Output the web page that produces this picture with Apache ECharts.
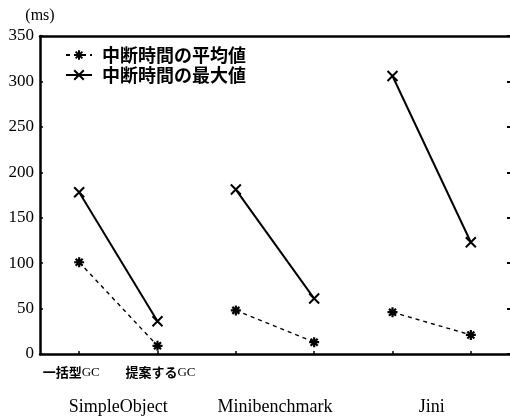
<!DOCTYPE html>
<html>
<head>
<meta charset="utf-8">
<script src="https://cdn.jsdelivr.net/npm/echarts@6/dist/echarts.min.js"></script>
<style>
  html, body { margin: 0; padding: 0; background: #fff; }
  #chart { width: 510px; height: 416px; }
</style>
</head>
<body>
<div id="chart"></div>
<script>
// GC pause times (ms): batch GC vs. proposed GC, per benchmark
const gcKinds = ['一括型GC', '提案するGC'];
const benchmarks = ['SimpleObject', 'Minibenchmark', 'Jini'];
const seriesNames = ['中断時間の平均値', '中断時間の最大値'];

const avgSimpleObject = [101, 9];
const maxSimpleObject = [178, 36];
const avgMinibenchmark = [48, 13];
const maxMinibenchmark = [181, 61];
const avgJini = [46, 21];
const maxJini = [306, 123];

const yTicks = [0, 50, 100, 150, 200, 250, 300, 350];

// one category slot per (benchmark, GC kind)
const categories = [];
benchmarks.forEach(() => gcKinds.forEach(k => categories.push(k)));

// place a benchmark's pair of values in its own two slots, leaving the rest empty
function slotData(groupIndex, pair) {
  const d = categories.map(() => null);
  d[groupIndex * 2] = pair[0];
  d[groupIndex * 2 + 1] = pair[1];
  return d;
}

const SYM_STAR = 'path://M5,0L5,10M0,5L10,5M1.5,1.5L8.5,8.5M8.5,1.5L1.5,8.5';
const SYM_CROSS = 'path://M0,0L10,10M10,0L0,10';

const avgStyle = {
  type: 'line',
  name: seriesNames[0],
  symbol: SYM_STAR,
  symbolSize: 10,
  showSymbol: true,
  connectNulls: false,
  lineStyle: { color: '#000', width: 1.4, type: [4, 4] },
  itemStyle: { color: '#000', borderColor: '#000', borderWidth: 2.2 },
  xAxisIndex: 0, yAxisIndex: 0,
  animation: false
};
const maxStyle = {
  type: 'line',
  name: seriesNames[1],
  symbol: SYM_CROSS,
  symbolSize: 10,
  showSymbol: true,
  connectNulls: false,
  lineStyle: { color: '#000', width: 2 },
  itemStyle: { color: '#000', borderColor: '#000', borderWidth: 2 },
  xAxisIndex: 0, yAxisIndex: 0,
  animation: false
};

const avgGroups = [avgSimpleObject, avgMinibenchmark, avgJini];
const maxGroups = [maxSimpleObject, maxMinibenchmark, maxJini];

const series = [];
avgGroups.forEach((pair, g) => series.push(Object.assign({}, avgStyle, { data: slotData(g, pair) })));
maxGroups.forEach((pair, g) => series.push(Object.assign({}, maxStyle, { data: slotData(g, pair) })));

const SERIF = '"Liberation Serif", "DejaVu Serif", serif';
const GOTHIC = '"Noto Sans CJK JP", "Noto Sans", sans-serif';

const chart = echarts.init(document.getElementById('chart'), null, { renderer: 'canvas' });
chart.setOption({
  backgroundColor: '#fff',
  animation: false,
  grid: { left: 40, top: 36, width: 471, bottom: 61, containLabel: false },
  legend: {
    data: seriesNames,
    orient: 'vertical',
    left: 60,
    top: 41,
    itemGap: 2,
    itemWidth: 26,
    itemHeight: 12,
    textStyle: { fontFamily: GOTHIC, fontSize: 18, fontWeight: 'bold', color: '#000', padding: [0, 0, 0, 5] },
    selectedMode: false
  },
  xAxis: [
    {
      type: 'category',
      data: categories,
      position: 'bottom',
      boundaryGap: true,
      axisLine: { lineStyle: { color: '#000', width: 2.5 } },
      axisTick: { show: true, inside: true, length: 3, alignWithLabel: true, lineStyle: { color: '#000', width: 1.5 } },
      axisLabel: {
        margin: 9,
        interval: 0,
        color: '#000',
        formatter: (value, index) => {
          if (index >= 2) return '';
          const text = '{j|' + value.replace(/GC$/, '') + '}{g|GC}';
          return index === 0 ? text + '{pad|}' : '{pad2|}' + text;
        },
        rich: {
          j: { fontFamily: GOTHIC, fontSize: 13, fontWeight: 'bold', color: '#000', lineHeight: 16, verticalAlign: 'bottom' },
          g: { fontFamily: SERIF, fontSize: 13, color: '#000', lineHeight: 16, verticalAlign: 'bottom' },
          pad: { width: 16, lineHeight: 16 },
          pad2: { width: 6, lineHeight: 16 }
        }
      },
      splitLine: { show: false }
    },
    {
      type: 'category',
      data: benchmarks,
      position: 'bottom',
      offset: 36,
      axisLine: { show: false },
      axisTick: { show: false },
      axisLabel: { margin: 8, color: '#000', fontFamily: SERIF, fontSize: 18 },
      splitLine: { show: false }
    },
    {
      type: 'category',
      data: categories,
      position: 'top',
      axisLine: { lineStyle: { color: '#000', width: 2.5 } },
      axisTick: { show: false },
      axisLabel: { show: false },
      splitLine: { show: false }
    }
  ],
  yAxis: [
    {
      type: 'value',
      min: yTicks[0],
      max: yTicks[yTicks.length - 1],
      interval: 50,
      name: '(ms)',
      nameLocation: 'end',
      nameGap: 12,
      nameTextStyle: { fontFamily: SERIF, fontSize: 16, color: '#000', align: 'center' },
      axisLine: { show: true, lineStyle: { color: '#000', width: 2.5 } },
      axisTick: { show: true, inside: true, length: 3, lineStyle: { color: '#000', width: 1.5 } },
      axisLabel: { margin: 6, color: '#000', fontFamily: SERIF, fontSize: 17 },
      splitLine: { show: false }
    },
    {
      type: 'value',
      position: 'right',
      min: yTicks[0],
      max: yTicks[yTicks.length - 1],
      interval: 50,
      axisLine: { show: false },
      axisTick: { show: true, inside: true, length: 3, lineStyle: { color: '#000', width: 2 } },
      axisLabel: { show: false },
      splitLine: { show: false }
    }
  ],
  series: series
});
</script>
</body>
</html>
